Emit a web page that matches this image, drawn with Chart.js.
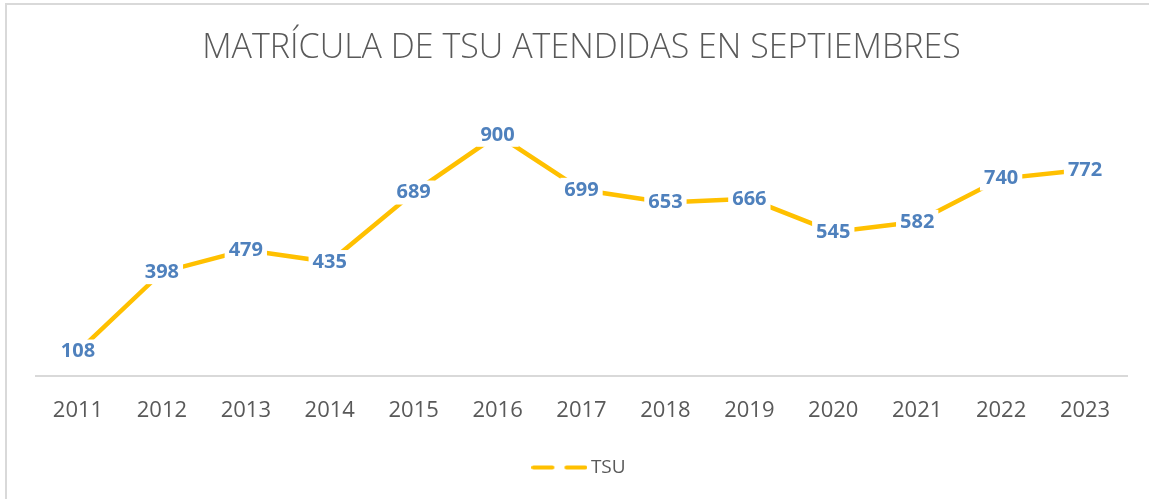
<!DOCTYPE html>
<html>
<head>
<meta charset="utf-8">
<script src="https://cdn.jsdelivr.net/npm/chart.js@4.4.1/dist/chart.umd.min.js"></script>
<style>
  html, body { margin: 0; padding: 0; background: #fff; }
  #wrap { position: relative; width: 1149px; height: 499px; }
  #frame { position: absolute; left: 5px; top: 3px; right: 0; bottom: 0;
           border-top: 2px solid #d9d9d9; border-left: 2px solid #d9d9d9; }
  canvas { position: absolute; left: 0; top: 0; }
</style>
</head>
<body>
<div id="wrap">
  <div id="frame"></div>
  <canvas id="chart" width="1149" height="499"></canvas>
</div>
<script>
// data
const years = ['2011', '2012', '2013', '2014', '2015', '2016', '2017', '2018', '2019', '2020', '2021', '2022', '2023'];
const tsu = [108, 398, 479, 435, 689, 900, 699, 653, 666, 545, 582, 740, 772];

const gold = '#FFC000'
const blue = '#4F81BD'
const grey = '#595959'

// legend sample: two dashes
const sample = document.createElement('canvas');
sample.width = 56; sample.height = 5;
{
  const c = sample.getContext('2d');
  c.strokeStyle = gold; c.lineWidth = 4; c.lineCap = 'round';
  c.beginPath();
  c.moveTo(2, 2.5); c.lineTo(21, 2.5);
  c.moveTo(35, 2.5); c.lineTo(54, 2.5);
  c.stroke();
}

// value labels on the points, with a white knock-out behind
const valueLabels = {
  id: 'valueLabels',
  afterDatasetsDraw(chart) {
    const ctx = chart.ctx;
    const meta = chart.getDatasetMeta(0);
    ctx.save();
    ctx.font = 'bold 20px "Open Sans"';
    ctx.textAlign = 'center';
    ctx.textBaseline = 'middle';
    meta.data.forEach((pt, i) => {
      const txt = String(chart.data.datasets[0].data[i]);
      const w = ctx.measureText(txt).width;
      ctx.fillStyle = '#fff';
      ctx.fillRect(pt.x - w / 2 - 4, pt.y - 12, w + 8, 24);
      ctx.fillStyle = blue;
      ctx.fillText(txt, pt.x, pt.y);
    });
    ctx.restore();
  }
};

const ctx = document.getElementById('chart').getContext('2d');
new Chart(ctx, {
  type: 'line',
  data: {
    labels: years,
    datasets: [{
      label: 'TSU',
      data: tsu,
      borderColor: gold,
      backgroundColor: gold,
      borderWidth: 4.5,
      pointRadius: 0,
      tension: 0
    }]
  },
  options: {
    responsive: false,
    animation: false,
    layout: { padding: { left: 36, right: 22, top: 0, bottom: 12 } },
    scales: {
      x: {
        offset: true,
        grid: { display: false, drawTicks: false },
        border: { display: true, color: '#d9d9d9', width: 2 },
        ticks: { color: grey, font: { family: 'Open Sans', size: 22 }, padding: 22 }
      },
      y: {
        display: false,
        min: 20,
        max: 1006
      }
    },
    plugins: {
      title: {
        display: true,
        text: 'MATRÍCULA DE TSU ATENDIDAS EN SEPTIEMBRES',
        color: grey,
        font: { family: 'Open Sans', size: 34, weight: '300' },
        padding: { top: 28, bottom: 37 }
      },
      legend: {
        position: 'bottom',
        labels: {
          usePointStyle: true,
          pointStyle: sample,
          pointStyleWidth: 44,
          color: grey,
          font: { family: 'Open Sans', size: 19 },
          padding: 12
        }
      },
      tooltip: { enabled: false }
    }
  },
  plugins: [valueLabels]
});
</script>
</body>
</html>
